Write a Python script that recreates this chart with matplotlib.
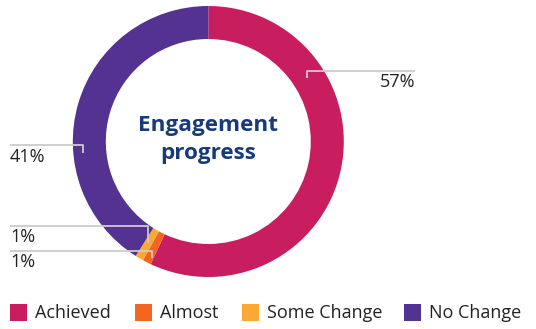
import matplotlib.pyplot as plt

# engagement breakdown
labels = ['Achieved', 'Almost', 'Some Change', 'No Change']
values = [57, 1, 1, 41]
colors = ['#C81E60', '#F26522', '#FBA834', '#533291']
value_text = ['57%', '1%', '1%', '41%']

W, H = 536, 329
fig = plt.figure(figsize=(W / 100, H / 100), dpi=100)
ax = fig.add_axes([0, 0, 1, 1])

cx, cy = 208.3, H - 141.5
r_out, ring = 135.5, 33

ax.pie(values, colors=colors, startangle=90, counterclock=False,
       center=(cx, cy), radius=r_out, frame=True,
       wedgeprops=dict(width=ring, linewidth=0))
ax.set_xlim(0, W)
ax.set_ylim(0, H)
ax.set_aspect('equal')
ax.axis('off')

plt.rcParams['font.family'] = ['Open Sans', 'DejaVu Sans']

ax.text(cx, H - 126, 'Engagement', ha='center', va='center', fontsize=16.2,
        fontweight='bold', color='#173B7A')
ax.text(cx, H - 153, 'progress', ha='center', va='center', fontsize=16.2,
        fontweight='bold', color='#173B7A')

# leader lines: (tick x, tick bottom y, line y, line end x)
line_c = '#cccccc'
leaders = [
    (307, 78, 70.5, 415, 'right'),
    (148, 243, 226, 10, 'left'),
    (152, 258, 250.5, 10, 'left'),
    (83, 153, 145, 10, 'left'),
]
for (tx, ty, ly, ex, side), txt in zip(leaders, value_text):
    ax.plot([tx, tx, ex], [H - ty, H - ly, H - ly], color=line_c, lw=1.3,
            solid_capstyle='butt')
    ax.text(ex, H - ly - 11.5, txt, ha=side, va='center', fontsize=13,
            color='#222222')

# legend row
leg_x = [10, 135, 242, 404]
for x, lab, c in zip(leg_x, labels, colors):
    ax.add_patch(plt.Rectangle((x, H - 321), 17, 17, color=c, lw=0))
    ax.text(x + 25, H - 313, lab, ha='left', va='center', fontsize=13,
            color='#222222')

fig.savefig('out.png', dpi=100)
